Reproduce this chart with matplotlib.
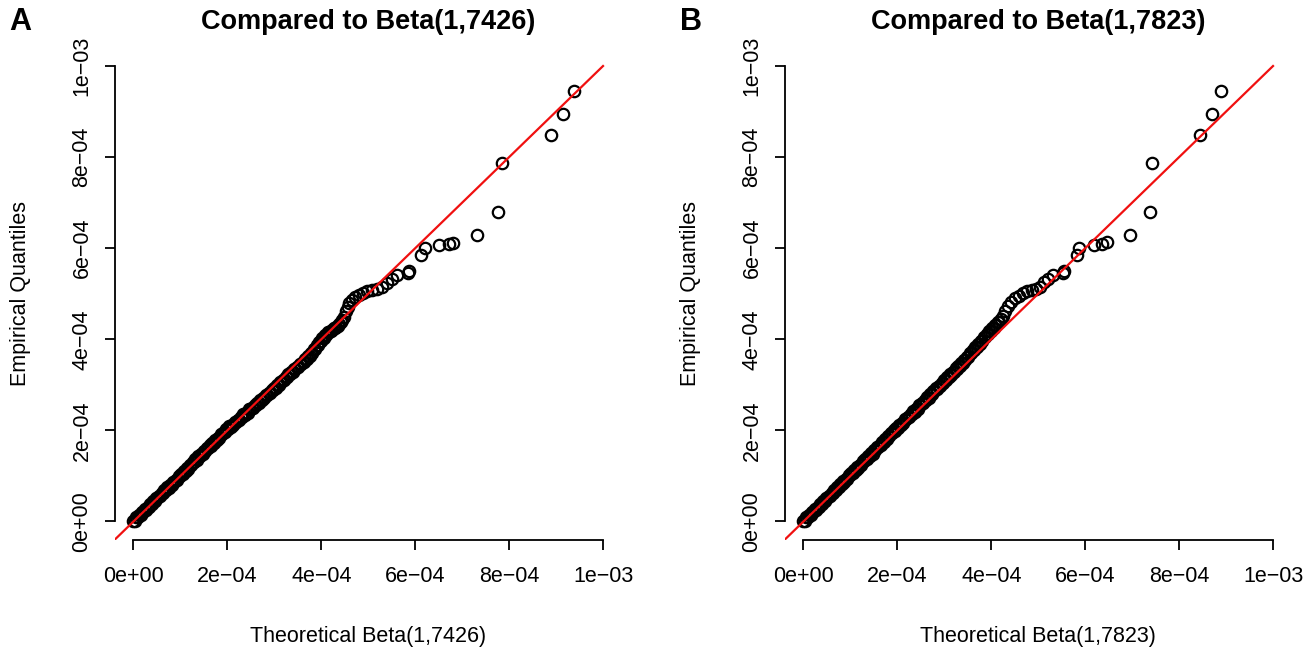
import matplotlib
matplotlib.use("Agg")
import matplotlib.pyplot as plt

plt.rcParams['font.family'] = ['Liberation Sans', 'DejaVu Sans']

SCALE = 1e-4  # values below are in units of 1e-4

# ---------------- Panel A: Beta(1,7426) ----------------
a_theo = [
    0.00, 0.03, 0.06, 0.09, 0.12, 0.15, 0.18, 0.21, 0.24, 0.27,
    0.30, 0.33, 0.36, 0.39, 0.42, 0.45, 0.48, 0.51, 0.54, 0.57,
    0.60, 0.63, 0.66, 0.69, 0.72, 0.75, 0.78, 0.81, 0.84, 0.87,
    0.90, 0.93, 0.96, 0.99, 1.02, 1.05, 1.08, 1.11, 1.14, 1.17,
    1.20, 1.23, 1.26, 1.29, 1.32, 1.35, 1.38, 1.41, 1.44, 1.47,
    1.50, 1.53, 1.56, 1.59, 1.62, 1.65, 1.68, 1.71, 1.74, 1.77,
    1.80, 1.83, 1.86, 1.89, 1.92, 1.95, 1.98, 2.01, 2.04, 2.07,
    2.10, 2.13, 2.16, 2.19, 2.22, 2.25, 2.28, 2.31, 2.34, 2.37,
    2.40, 2.43, 2.46, 2.49, 2.52, 2.55, 2.58, 2.61, 2.64, 2.67,
    2.70, 2.73, 2.76, 2.79, 2.82, 2.85, 2.88, 2.91, 2.94, 2.97,
    3.00, 3.03, 3.06, 3.09, 3.12, 3.15, 3.18, 3.21, 3.24, 3.27,
    3.30, 3.33, 3.36, 3.39, 3.42, 3.45, 3.48, 3.51, 3.54, 3.57,
    3.60, 3.63, 3.66, 3.69, 3.72, 3.75, 3.78, 3.81, 3.84, 3.87,
    3.90, 3.93, 3.96, 3.99, 4.02, 4.05, 4.08, 4.11, 4.14, 4.17,
    4.20, 4.23, 4.26, 4.29, 4.32, 4.35, 4.38, 4.41, 4.44,
    4.48, 4.52, 4.56, 4.60, 4.66, 4.72, 4.80, 4.88, 4.97, 5.07, 5.18,
    5.29, 5.39, 5.50, 5.61, 5.85, 5.87, 6.12, 6.21, 6.51, 6.72, 6.81,
    7.32, 7.76, 7.84, 8.90, 9.15, 9.38]
a_emp = [
    0.02, 0.02, 0.09, 0.09, 0.15, 0.14, 0.21, 0.21, 0.27, 0.26,
    0.32, 0.32, 0.39, 0.39, 0.45, 0.44, 0.51, 0.51, 0.57, 0.56,
    0.62, 0.62, 0.69, 0.69, 0.75, 0.74, 0.81, 0.81, 0.87, 0.86,
    0.92, 0.92, 0.99, 0.99, 1.05, 1.04, 1.11, 1.11, 1.17, 1.16,
    1.24, 1.24, 1.31, 1.31, 1.37, 1.36, 1.43, 1.43, 1.49, 1.48,
    1.54, 1.54, 1.61, 1.61, 1.67, 1.66, 1.73, 1.73, 1.79, 1.78,
    1.84, 1.84, 1.91, 1.91, 1.97, 1.96, 2.03, 2.03, 2.09, 2.08,
    2.12, 2.12, 2.19, 2.19, 2.23, 2.23, 2.29, 2.29, 2.35, 2.34,
    2.39, 2.39, 2.46, 2.46, 2.50, 2.50, 2.56, 2.56, 2.61, 2.61,
    2.66, 2.66, 2.72, 2.72, 2.77, 2.77, 2.83, 2.83, 2.89, 2.89,
    2.94, 2.94, 3.00, 3.00, 3.06, 3.06, 3.11, 3.11, 3.17, 3.17,
    3.23, 3.23, 3.28, 3.28, 3.34, 3.34, 3.40, 3.40, 3.45, 3.45,
    3.51, 3.51, 3.57, 3.57, 3.64, 3.64, 3.71, 3.71, 3.79, 3.79,
    3.87, 3.88, 3.95, 3.96, 4.02, 4.03, 4.09, 4.10, 4.15, 4.16,
    4.19, 4.20, 4.24, 4.25, 4.28, 4.30, 4.33, 4.37, 4.42,
    4.50, 4.62, 4.72, 4.80, 4.86, 4.92, 4.97, 5.01, 5.05, 5.08, 5.10,
    5.15, 5.24, 5.33, 5.41, 5.45, 5.51, 5.85, 6.01, 6.06, 6.09, 6.12,
    6.29, 6.79, 7.86, 8.48, 8.95, 9.45]

# ---------------- Panel B: Beta(1,7823) ----------------
b_theo = [
    0.00, 0.03, 0.06, 0.09, 0.12, 0.15, 0.18, 0.21, 0.24, 0.27,
    0.30, 0.33, 0.36, 0.39, 0.42, 0.45, 0.48, 0.51, 0.54, 0.57,
    0.60, 0.63, 0.66, 0.69, 0.72, 0.75, 0.78, 0.81, 0.84, 0.87,
    0.90, 0.93, 0.96, 0.99, 1.02, 1.05, 1.08, 1.11, 1.14, 1.17,
    1.20, 1.23, 1.26, 1.29, 1.32, 1.35, 1.38, 1.41, 1.44, 1.47,
    1.50, 1.53, 1.56, 1.59, 1.62, 1.65, 1.68, 1.71, 1.74, 1.77,
    1.80, 1.83, 1.86, 1.89, 1.92, 1.95, 1.98, 2.01, 2.04, 2.07,
    2.10, 2.13, 2.16, 2.19, 2.22, 2.25, 2.28, 2.31, 2.34, 2.37,
    2.40, 2.43, 2.46, 2.49, 2.52, 2.55, 2.58, 2.61, 2.64, 2.67,
    2.70, 2.73, 2.76, 2.79, 2.82, 2.85, 2.88, 2.91, 2.94, 2.97,
    3.00, 3.03, 3.06, 3.09, 3.12, 3.15, 3.18, 3.21, 3.24, 3.27,
    3.30, 3.33, 3.36, 3.39, 3.42, 3.45, 3.48, 3.51, 3.54, 3.57,
    3.60, 3.63, 3.66, 3.69, 3.72, 3.75, 3.78, 3.81, 3.84, 3.87,
    3.90, 3.93, 3.96, 3.99, 4.02, 4.05, 4.08, 4.11, 4.14, 4.17,
    4.20,
    4.25, 4.30, 4.36, 4.42, 4.50, 4.58, 4.67, 4.76, 4.86, 4.95,
    5.04, 5.12, 5.21, 5.32, 5.53, 5.55, 5.82, 5.87, 6.19, 6.36, 6.46,
    6.95, 7.37, 7.43, 8.45, 8.69, 8.89]
b_emp = [
    0.02, 0.02, 0.09, 0.09, 0.15, 0.14, 0.21, 0.21, 0.27, 0.26,
    0.32, 0.32, 0.39, 0.39, 0.45, 0.44, 0.51, 0.51, 0.57, 0.56,
    0.63, 0.63, 0.70, 0.70, 0.76, 0.75, 0.82, 0.82, 0.88, 0.87,
    0.94, 0.94, 1.01, 1.01, 1.07, 1.06, 1.13, 1.13, 1.19, 1.18,
    1.25, 1.25, 1.32, 1.32, 1.38, 1.37, 1.44, 1.44, 1.50, 1.49,
    1.56, 1.56, 1.63, 1.63, 1.69, 1.68, 1.75, 1.75, 1.81, 1.80,
    1.87, 1.87, 1.94, 1.94, 2.00, 1.99, 2.06, 2.06, 2.12, 2.11,
    2.17, 2.17, 2.24, 2.24, 2.30, 2.29, 2.36, 2.36, 2.42, 2.41,
    2.48, 2.48, 2.55, 2.55, 2.61, 2.60, 2.67, 2.67, 2.73, 2.72,
    2.79, 2.79, 2.86, 2.86, 2.92, 2.91, 2.98, 2.98, 3.04, 3.03,
    3.10, 3.10, 3.17, 3.17, 3.23, 3.22, 3.29, 3.29, 3.36, 3.35,
    3.42, 3.42, 3.49, 3.49, 3.55, 3.55, 3.62, 3.62, 3.69, 3.69,
    3.76, 3.76, 3.83, 3.83, 3.90, 3.90, 3.97, 3.97, 4.04, 4.04,
    4.11, 4.11, 4.18, 4.18, 4.25, 4.25, 4.32, 4.32, 4.39, 4.39,
    4.44,
    4.52, 4.62, 4.74, 4.82, 4.90, 4.96, 5.01, 5.05, 5.08, 5.11,
    5.15, 5.26, 5.33, 5.41, 5.45, 5.51, 5.85, 6.01, 6.06, 6.09, 6.13,
    6.29, 6.79, 7.86, 8.48, 8.95, 9.45]

tick_values = [0, 2e-4, 4e-4, 6e-4, 8e-4, 1e-3]
tick_labels = ["0e+00", "2e\u221204", "4e\u221204", "6e\u221204", "8e\u221204", "1e\u221203"]

panels = [
    ("A", "Compared to Beta(1,7426)", "Theoretical Beta(1,7426)", a_theo, a_emp),
    ("B", "Compared to Beta(1,7823)", "Theoretical Beta(1,7823)", b_theo, b_emp),
]

W, H = 1315, 651
fig = plt.figure(figsize=(W / 100, H / 100), dpi=100)

lefts = [114.7, 784.7]
ax_w, ax_h = 507.1, 491.9
for (letter, title, xlabel, theo, emp), left_px in zip(panels, lefts):
    ax = fig.add_axes([left_px / W, (H - 539.7) / H, ax_w / W, ax_h / H])
    x = [v * SCALE for v in theo]
    y = [v * SCALE for v in emp]
    lo, hi = -0.4e-4, 10.4e-4
    ax.set_xlim(lo, hi)
    ax.set_ylim(lo, hi)
    ax.plot([lo, 1e-3], [lo, 1e-3], color='#f01010', lw=1.6, zorder=3)
    ax.plot(x, y, linestyle='none', marker='o', ms=8.2, mfc='none',
            mec='black', mew=1.6, zorder=2)
    for s in ['top', 'right']:
        ax.spines[s].set_visible(False)
    for s in ['left', 'bottom']:
        ax.spines[s].set_bounds(0, 1e-3)
        ax.spines[s].set_linewidth(1.3)
    ax.set_xticks(tick_values)
    ax.set_xticklabels(tick_labels)
    ax.set_yticks(tick_values)
    ax.set_yticklabels(tick_labels, rotation=90, va='center')
    ax.tick_params(axis='both', direction='out', length=7, width=1.3,
                   labelsize=15.5)
    ax.tick_params(axis='x', pad=12)
    ax.tick_params(axis='y', pad=9)
    ax.set_xlabel(xlabel, fontsize=15.5, labelpad=28)
    ax.set_ylabel("Empirical Quantiles", fontsize=15.5, labelpad=29)
    fig.text((left_px + ax_w / 2) / W, 1 - 22 / H, title, fontsize=19.5,
             fontweight='bold', ha='center', va='center')
    fig.text((left_px - 94) / W, 1 - 22 / H, letter, fontsize=22,
             fontweight='bold', ha='center', va='center')

fig.savefig("out.png", dpi=100)
